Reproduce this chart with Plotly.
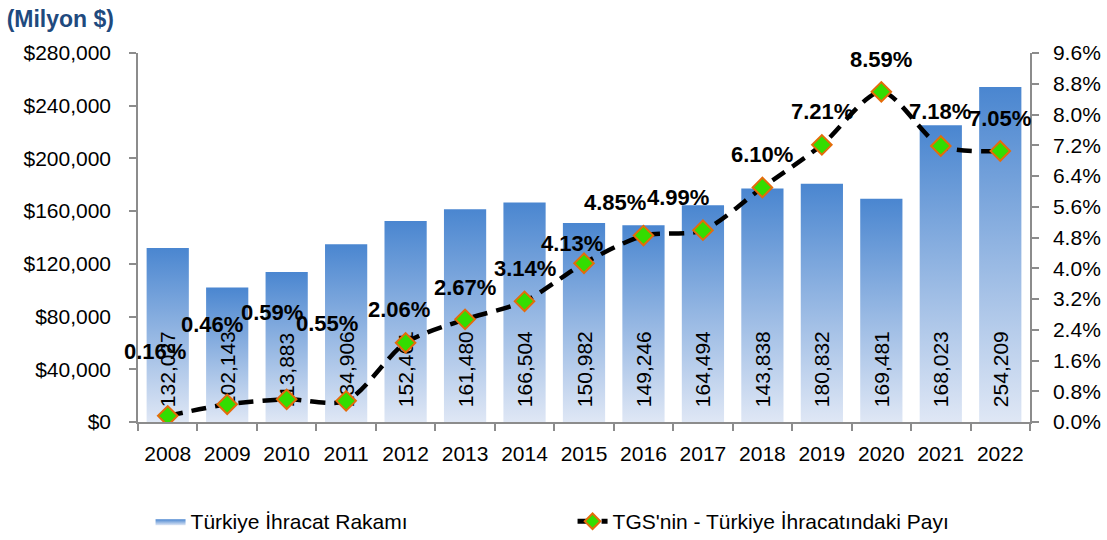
import plotly.graph_objects as go

years = [2008, 2009, 2010, 2011, 2012, 2013, 2014, 2015, 2016, 2017, 2018, 2019, 2020, 2021, 2022]
export_values = [132027, 102143, 113883, 134906, 152461, 161480, 166504, 150982,
                 149246, 164494, 177169, 180832, 169481, 225214, 254209]
export_labels = ["132,027", "102,143", "113,883", "134,906", "152,461", "161,480", "166,504",
                 "150,982", "149,246", "164,494", "143,838", "180,832", "169,481", "168,023", "254,209"]
share_pct = [0.16, 0.46, 0.59, 0.55, 2.06, 2.67, 3.14, 4.13, 4.85, 4.99, 6.10, 7.21, 8.59, 7.18, 7.05]
share_labels = ["0.16%", "0.46%", "0.59%", "0.55%", "2.06%", "2.67%", "3.14%", "4.13%",
                "4.85%", "4.99%", "6.10%", "7.21%", "8.59%", "7.18%", "7.05%"]
left_ticks = [0, 40000, 80000, 120000, 160000, 200000, 240000, 280000]
left_ticktext = ["$0", "$40,000", "$80,000", "$120,000", "$160,000", "$200,000", "$240,000", "$280,000"]
right_ticks = [0.0, 0.8, 1.6, 2.4, 3.2, 4.0, 4.8, 5.6, 6.4, 7.2, 8.0, 8.8, 9.6]
right_ticktext = ["0.0%", "0.8%", "1.6%", "2.4%", "3.2%", "4.0%", "4.8%", "5.6%", "6.4%",
                  "7.2%", "8.0%", "8.8%", "9.6%"]

# label placement (pixels) relative to each marker
label_offsets = [(-13, 64), (-15, 80), (-15, 87), (-19, 77), (-7, 33), (0, 32), (0, 33), (-12, 20),
                 (-28, 33), (-25, 33), (0, 33), (0, 33), (0, 32), (-1, 35), (0, 33)]

FONT = "Liberation Sans, Arial, sans-serif"
HALF = 0.355
GRAD = [[0, "#dfe7f5"], [1, "#4a86d0"]]

fig = go.Figure()

for i, (yr, v) in enumerate(zip(years, export_values)):
    fig.add_trace(go.Scatter(
        x=[yr - HALF, yr + HALF, yr + HALF, yr - HALF, yr - HALF],
        y=[0, 0, v, v, 0],
        mode="lines", fill="toself", line=dict(width=0, color="#4a86d0"),
        fillgradient=dict(type="vertical", colorscale=GRAD),
        name="Türkiye İhracat Rakamı", legendgroup="bars", showlegend=(i == 0),
        hoverinfo="skip", xaxis="x", yaxis="y",
    ))

# bar value labels (transparent bars in an overlay so markers sit above them)
fig.add_trace(go.Bar(
    x=years, y=export_values, width=2 * HALF, xaxis="x2", yaxis="y2",
    marker=dict(color="rgba(0,0,0,0)", line=dict(width=0)),
    text=export_labels, textposition="inside", insidetextanchor="start", textangle=-90,
    constraintext="none", textfont=dict(family=FONT, size=21, color="black"),
    showlegend=False, hoverinfo="skip",
))

fig.add_trace(go.Scatter(
    x=years, y=share_pct, xaxis="x2", yaxis="y3",
    mode="lines+markers", name="TGS'nin - Türkiye İhracatındaki Payı",
    line=dict(color="black", width=4.5, dash="15px,9px", shape="spline", smoothing=0.8),
    marker=dict(symbol="diamond", size=15, color="#33dd00", line=dict(color="#e46c0a", width=2)),
))

annotations = []
for yr, p, lab, (dx, dy) in zip(years, share_pct, share_labels, label_offsets):
    annotations.append(dict(
        x=yr, y=p, xref="x2", yref="y3", text=lab, showarrow=False,
        xshift=dx, yshift=dy, xanchor="center", yanchor="middle",
        font=dict(family=FONT, size=22, color="black", weight="bold"),
    ))

axis_grey = "#8c8c8c"
fig.update_layout(
    width=1107, height=540,
    margin=dict(l=138, r=77, t=53, b=118),
    paper_bgcolor="white", plot_bgcolor="white",
    font=dict(family=FONT, size=21, color="black"),
    title=dict(text="<b>(Milyon $)</b>", xref="container", yref="container", x=0.006, y=0.965,
               xanchor="left", yanchor="middle",
               font=dict(family=FONT, size=23, color="#1f4a7e")),
    xaxis=dict(range=[2007.5, 2022.5], tickmode="array", tickvals=years,
               ticktext=[str(y) for y in years], ticks="", showgrid=False, zeroline=False,
               showline=True, linecolor=axis_grey, linewidth=1.5, automargin=False,
               tickfont=dict(family=FONT, size=21), ticklabelstandoff=12,
               minor=dict(ticks="outside", tick0=2007.5, dtick=1, ticklen=7,
                          tickcolor=axis_grey, tickwidth=1.5, showgrid=False)),
    xaxis2=dict(overlaying="x", matches="x", visible=False),
    yaxis=dict(range=[0, 280000], tickmode="array", tickvals=left_ticks, ticktext=left_ticktext,
               ticks="outside", ticklen=7, automargin=False,
               tickcolor=axis_grey, tickwidth=1.5, showline=True, linecolor=axis_grey,
               linewidth=1.5, showgrid=False, zeroline=False, ticklabelstandoff=14,
               tickfont=dict(family=FONT, size=21)),
    yaxis2=dict(overlaying="y", range=[-9000, 271000], visible=False),
    yaxis3=dict(overlaying="y", side="right", range=[0, 9.6], tickmode="array",
                tickvals=right_ticks, ticktext=right_ticktext, ticks="outside", automargin=False,
                ticklen=7, tickcolor=axis_grey, tickwidth=1.5, showline=True,
                linecolor=axis_grey, linewidth=1.5, showgrid=False, zeroline=False,
                ticklabelstandoff=10, tickfont=dict(family=FONT, size=21)),
    legend=dict(orientation="h", xref="container", x=0.136, xanchor="left",
                yref="container", y=0.072, yanchor="top",
                entrywidth=377, entrywidthmode="pixels",
                font=dict(family=FONT, size=21), itemsizing="constant"),
    annotations=annotations,
    showlegend=True,
)

fig.write_html("out.html", config={"displayModeBar": False},
               post_script="document.body.style.margin='0';")
